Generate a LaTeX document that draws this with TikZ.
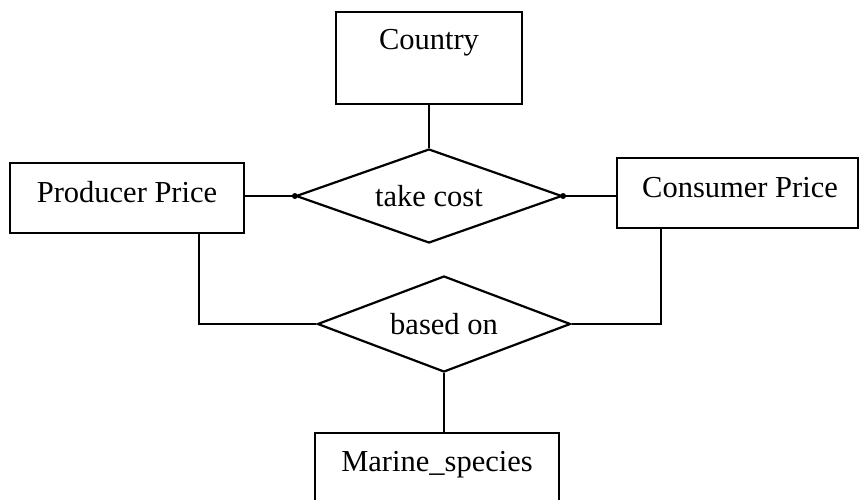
\documentclass[tikz,border=0pt]{standalone}
\usepackage{fontspec}
\setmainfont{Liberation Serif}
\usetikzlibrary{shapes.geometric}
\begin{document}
\begin{tikzpicture}[x=1pt,y=-1pt,
  entity/.style={draw, line width=2.2pt, rectangle, inner sep=0pt},
  relation/.style={draw, line width=2.2pt, diamond, inner sep=0pt},
  lbl/.style={font=\fontsize{30.5}{33}\selectfont, inner sep=0pt},
  link/.style={line width=2.2pt},
  joint/.style={circle, fill=black, inner sep=0pt, minimum size=6pt}]
\clip (0,0) rectangle (860,499);
\fill[white] (0,0) rectangle (860,499);

% entity boxes
\node[entity, minimum width=186pt, minimum height=92pt] (country) at (429,58) {};
\node[lbl] (countrytxt) at (429,43) {Country};
\node[entity, minimum width=234pt, minimum height=70pt] (producer) at (127,198) {};
\node[lbl] (producertxt) at (127,192) {Producer Price};
\node[entity, minimum width=241pt, minimum height=70pt] (consumer) at (737.5,193) {};
\node[lbl] (consumertxt) at (740,188) {Consumer Price};
\node[entity, minimum width=244pt, minimum height=80pt] (marine) at (437,473) {};
\node[lbl] (marinetxt) at (437,465) {Marine\_species};

% relationships
\node[relation, minimum width=266pt, minimum height=94pt] (takecost) at (429,196) {};
\node[lbl] (takecosttxt) at (429,196) {take cost};
\node[relation, minimum width=253pt, minimum height=96pt] (basedon) at (444,324) {};
\node[lbl] (basedontxt) at (444,324) {based on};

% connectors
\draw[link] (country.south) -- (takecost.north);
\draw[link] (takecost.west) -- (takecost.west -| producer.east);
\draw[link] (takecost.east) -- (takecost.east -| consumer.west);
\node[joint] (jl) at (takecost.west) {};
\node[joint] (jr) at (takecost.east) {};
\draw[link] ([xshift=72pt]producer.south) |- (basedon.west);
\draw[link] ([xshift=-76.5pt]consumer.south) |- (basedon.east);
\draw[link] (basedon.south) -- (basedon.south |- marine.north);
\end{tikzpicture}
\end{document}
